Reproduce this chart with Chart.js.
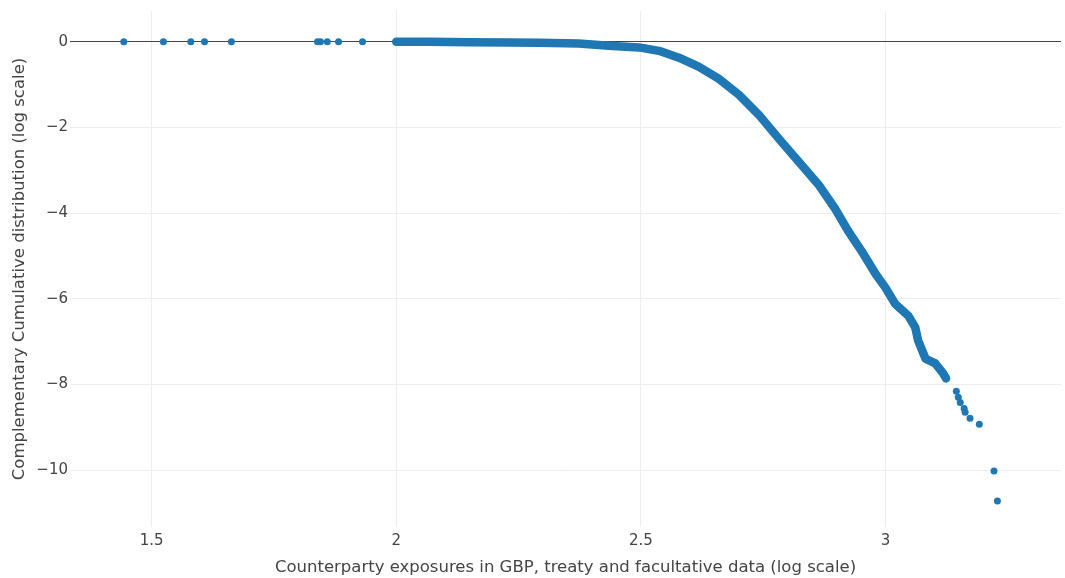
<!DOCTYPE html>
<html>
<head>
<meta charset="utf-8">
<script src="https://cdn.jsdelivr.net/npm/chart.js@4"></script>
<style>
  html, body { margin: 0; padding: 0; background: #fff; }
  #wrap { width: 1065px; height: 578px; }
</style>
</head>
<body>
<div id="wrap"><canvas id="ccdf" width="1065" height="578"></canvas></div>
<script>
// Isolated points (left of the dense run and the far tail)
const sparseX = [1.443, 1.524, 1.580, 1.608, 1.663, 1.839, 1.845, 1.859, 1.882, 1.931,
                 3.145, 3.149, 3.153, 3.161, 3.163, 3.173, 3.192, 3.222, 3.229];
const sparseY = [0, 0, 0, 0, 0, 0, 0, 0, 0, 0,
                 -8.16, -8.30, -8.42, -8.56, -8.65, -8.79, -8.93, -10.02, -10.72];

// Dense body of the distribution (markers overlap into a solid band)
const curveX = [2.000, 2.067, 2.149, 2.231, 2.292, 2.373, 2.435, 2.496, 2.537, 2.578,
                2.618, 2.659, 2.700, 2.741, 2.782, 2.822, 2.863, 2.898, 2.924, 2.951,
                2.980, 3.000, 3.020, 3.047, 3.061, 3.067, 3.082, 3.102, 3.118, 3.124];
const curveY = [0, 0, -0.01, -0.015, -0.02, -0.04, -0.09, -0.13, -0.21, -0.37,
                -0.58, -0.86, -1.23, -1.70, -2.26, -2.79, -3.33, -3.91, -4.42, -4.88,
                -5.42, -5.74, -6.12, -6.40, -6.67, -6.98, -7.40, -7.51, -7.74, -7.86];

const xTicks = [1.5, 2, 2.5, 3];
const yTicks = [0, -2, -4, -6, -8, -10];

const blue = '#1f77b4';
const font = "'DejaVu Sans', Verdana, sans-serif";
const toPts = (xs, ys) => xs.map((x, i) => ({ x: x, y: ys[i] }));
const fmt = v => String(v).replace('-', '\u2212');

new Chart(document.getElementById('ccdf'), {
    type: 'scatter',
    data: {
        datasets: [
            {
                data: toPts(curveX, curveY),
                showLine: true,
                borderColor: blue,
                borderWidth: 8.5,
                borderCapStyle: 'round',
                borderJoinStyle: 'round',
                backgroundColor: blue,
                pointRadius: 3.5,
                pointBorderWidth: 0,
                tension: 0
            },
            {
                data: toPts(sparseX, sparseY),
                backgroundColor: blue,
                pointRadius: 3.5,
                pointBorderWidth: 0
            }
        ]
    },
    options: {
        responsive: false,
        animation: false,
        layout: { padding: { top: 9, right: 2, left: 0, bottom: 0 } },
        plugins: {
            legend: { display: false },
            tooltip: { enabled: false }
        },
        scales: {
            x: {
                type: 'linear',
                min: 1.333,
                max: 3.359,
                afterBuildTicks: axis => { axis.ticks = xTicks.map(v => ({ value: v })); },
                afterFit: axis => { axis.height = 51; },
                border: { display: false },
                grid: { color: '#eeeeee', lineWidth: 1, drawTicks: false },
                ticks: {
                    padding: 5,
                    color: '#444',
                    font: { family: font, size: 15 },
                    callback: v => fmt(v)
                },
                title: {
                    display: true,
                    text: 'Counterparty exposures in GBP, treaty and facultative data (log scale)',
                    color: '#444',
                    font: { family: font, size: 16.5 },
                    padding: { top: 2, bottom: 0 }
                }
            },
            y: {
                type: 'linear',
                min: -11.33,
                max: 0.72,
                afterBuildTicks: axis => { axis.ticks = yTicks.map(v => ({ value: v })); },
                afterFit: axis => { axis.width = 70; },
                border: { display: false },
                grid: {
                    color: ctx => (ctx.tick && ctx.tick.value === 0 ? '#444444' : '#eeeeee'),
                    lineWidth: 1,
                    drawTicks: false
                },
                ticks: {
                    padding: 2,
                    color: '#444',
                    font: { family: font, size: 15 },
                    callback: v => fmt(v)
                },
                title: {
                    display: true,
                    text: 'Complementary Cumulative distribution (log scale)',
                    color: '#444',
                    font: { family: font, size: 16.5 },
                    padding: { top: 10, bottom: 0 }
                }
            }
        }
    }
});
</script>
</body>
</html>
